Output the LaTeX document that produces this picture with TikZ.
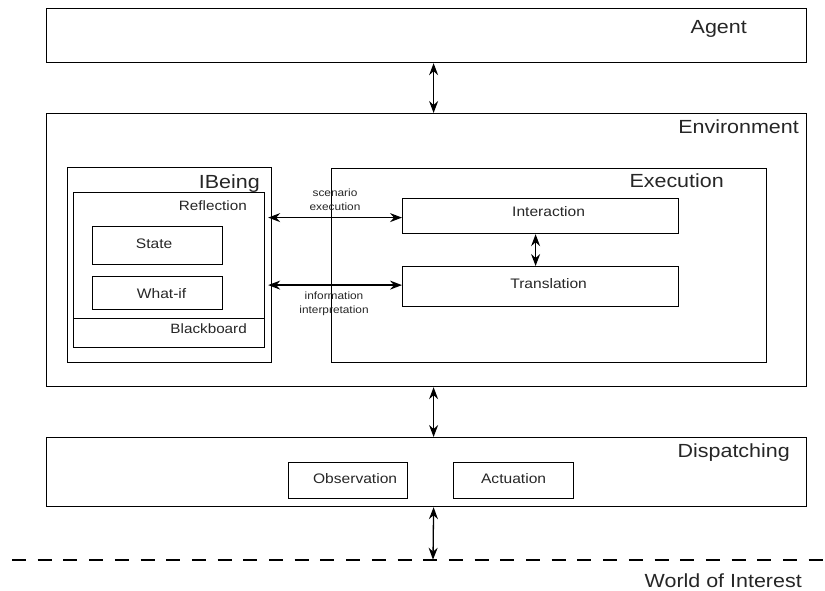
\documentclass[tikz,border=0pt]{standalone}
\usepackage{fontspec}
\setmainfont{Liberation Sans}[FakeStretch=1.13]
\usetikzlibrary{arrows.meta}
\begin{document}
\begin{tikzpicture}[x=1pt,y=-1pt,
  box/.style={draw, line width=1.2pt, inner sep=0pt, anchor=north west},
  title/.style={inner sep=0pt, anchor=base east, text=black!85, font=\fontsize{19}{22}\selectfont},
  sub/.style={inner sep=0pt, anchor=base east, text=black!85, font=\fontsize{13.5}{16}\selectfont},
  inlabel/.style={inner sep=0pt, text=black!85, font=\fontsize{13.8}{16}\selectfont},
  note/.style={inner sep=0pt, align=center, text=black!85, font=\fontsize{10.5}{14}\selectfont},
  tip/.tip={Stealth[length=12pt,width=9pt,inset=4pt]},
  link/.style={line width=1.3pt, tip-tip},
]
\useasboundingbox (0,0) rectangle (825,590);

% layers
\node[box, minimum width=760pt, minimum height=54pt]  (agent) at (46,8) {};
\node[box, minimum width=760pt, minimum height=273pt] (env)   at (46,113) {};
\node[box, minimum width=760pt, minimum height=69pt]  (disp)  at (46,437) {};

% IBeing side
\node[box, minimum width=204pt, minimum height=195pt] (ibeing) at (67,167) {};
\node[box, minimum width=191pt, minimum height=155pt] (refl)   at (73,192) {};
\node[box, minimum width=130pt, minimum height=38pt]  (state)  at (92,226) {};
\node[box, minimum width=130pt, minimum height=33pt]  (whatif) at (92,276) {};
\draw[line width=1.2pt] ([yshift=30pt]refl.south west) -- ([yshift=30pt]refl.south east);

% Execution side
\node[box, minimum width=435pt, minimum height=194pt] (exec)  at (331,168) {};
\node[box, minimum width=276pt, minimum height=35pt]  (inter) at (402,198) {};
\node[box, minimum width=276pt, minimum height=40pt]  (trans) at (402,266) {};

% dispatching parts
\node[box, minimum width=119pt, minimum height=36pt] (obs) at (288,462) {};
\node[box, minimum width=120pt, minimum height=36pt] (act) at (453,462) {};

% world boundary
\coordinate (wl) at (12,559.7);
\coordinate (wr) at (825,559.7);
\coordinate (wa) at (433,559.7);
\draw[line width=1.6pt, dash pattern=on 14pt off 11.7pt] (wl) -- (wr);

% connectors
\draw[link] ([xshift=7pt]agent.south) -- ([xshift=7pt]env.north);
\draw[link] ([xshift=7pt]env.south) -- ([xshift=7pt]disp.north);
\draw[link] ([xshift=7pt]disp.south) -- (wa);
\draw[link] ([xshift=-5pt]inter.south) -- ([xshift=-5pt]trans.north);
\draw[link] ([yshift=-1.5pt]inter.west) -- ([xshift=3pt,yshift=-1.5pt]inter.west -| refl.east);
\draw[link] ([yshift=1.5pt]trans.west) -- ([xshift=3pt,yshift=1.5pt]trans.west -| refl.east);

% titles
\node[title] (agentT)  at (747,33)  {Agent};
\node[title] (envT)    at (799,133) {Environment};
\node[title] (ibeingT) at (260,188) {IBeing};
\node[title] (execT)   at (724,187) {Execution};
\node[title] (dispT)   at (790,457) {Dispatching};
\node[title] (worldT)  at (802,587) {World of Interest};
\node[sub]   (reflT)   at (247,210) {Reflection};
\node[sub]   (bbT)     at (247,333) {Blackboard};

% box labels
\node[inlabel] (stateT)  at ([xshift=-3.5pt,yshift=1.5pt]state.center) {State};
\node[inlabel] (whatifT) at ([xshift=4pt]whatif.center) {What-if};
\node[inlabel] (interT)  at ([xshift=8pt,yshift=4.5pt]inter.center) {Interaction};
\node[inlabel] (transT)  at ([xshift=8pt,yshift=3pt]trans.center) {Translation};
\node[inlabel] (obsT)    at ([xshift=7pt,yshift=2.5pt]obs.center) {Observation};
\node[inlabel] (actT)    at ([yshift=2pt]act.center) {Actuation};

% connector notes
\node[note] (scenT) at (335,200) {scenario\\execution};
\node[note] (infoT) at (334,304) {information\\interpretation};
\end{tikzpicture}
\end{document}
